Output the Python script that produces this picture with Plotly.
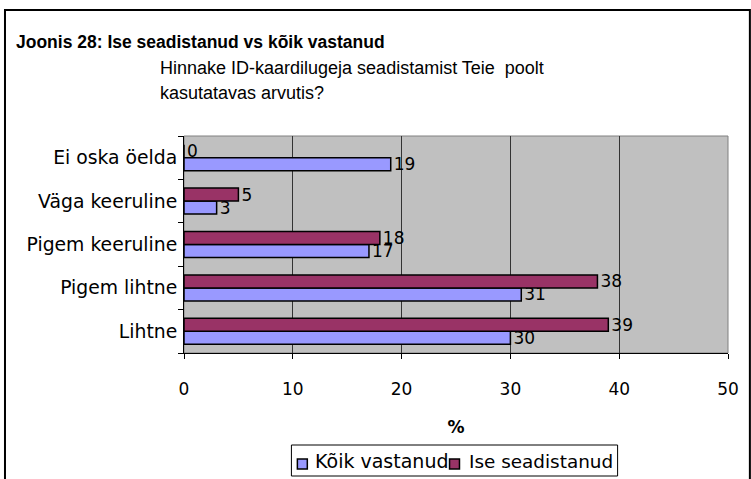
import plotly.graph_objects as go

categories = ["Lihtne", "Pigem lihtne", "Pigem keeruline", "Väga keeruline", "Ei oska öelda"]
koik_vastanud = [30, 31, 17, 3, 19]
ise_seadistanud = [39, 38, 18, 5, 0]
x_ticks = [0, 10, 20, 30, 40, 50]
series_names = ["Kõik vastanud", "Ise seadistanud"]
series_colors = ["#9999FF", "#993366"]

W, H = 751, 479
L, R, T, B = 184, 20, 136, 126
pw, ph = W - L - R, H - T - B

def px(x):
    return (x - L) / pw

def py(y):
    return (H - B - y) / ph

FONT = "DejaVu Sans"

fig = go.Figure()
for name, vals, col in zip(series_names, [koik_vastanud, ise_seadistanud], series_colors):
    fig.add_trace(go.Bar(
        y=categories, x=vals, orientation="h", name=name,
        marker=dict(color=col, line=dict(color="black", width=1.5)),
        text=[str(v) for v in vals], textposition="outside", constraintext="none",
        textfont=dict(family=FONT, size=17, color="black"), cliponaxis=False,
        showlegend=False,
    ))

fig.update_layout(
    width=W, height=H,
    margin=dict(l=L, r=R, t=T, b=B),
    paper_bgcolor="white", plot_bgcolor="#C0C0C0",
    barmode="group", bargap=0.4, bargroupgap=0,
    font=dict(family=FONT, size=17, color="black"),
    showlegend=False,
    xaxis=dict(range=[0, 50], tickvals=x_ticks, showgrid=True, gridcolor="#333333", gridwidth=1,
               ticks="outside", ticklen=5, tickcolor="black", showline=True, linecolor="black",
               zeroline=False, tickfont=dict(family=FONT, size=17), ticklabelstandoff=16,
               title=dict(text="<b>%</b>", font=dict(family=FONT, size=17), standoff=22)),
    yaxis=dict(showgrid=False, ticks="outside", ticklen=5, tickcolor="black", tickson="boundaries",
               showline=True, linecolor="black", tickfont=dict(family=FONT, size=18.8),
               ticklabelstandoff=2),
)

fig.add_shape(type="rect", xref="paper", yref="paper", x0=0, x1=1, y0=0, y1=1,
              line=dict(color="#808080", width=1), layer="below")
fig.add_shape(type="rect", xref="paper", yref="paper", x0=px(4), x1=px(753), y0=py(10), y1=py(485),
              line=dict(color="black", width=2))

# Title block
fig.add_annotation(xref="paper", yref="paper", x=px(13), y=py(42), xanchor="left", yanchor="middle",
                   text="<b>Joonis 28: Ise seadistanud vs kõik vastanud</b>", showarrow=False,
                   font=dict(family="Liberation Sans", size=17.5, color="black"))
fig.add_annotation(xref="paper", yref="paper", x=px(158), y=py(68), xanchor="left", yanchor="middle",
                   text="Hinnake ID-kaardilugeja seadistamist Teie  poolt", showarrow=False,
                   font=dict(family="Liberation Sans", size=18, color="black"))
fig.add_annotation(xref="paper", yref="paper", x=px(158), y=py(93), xanchor="left", yanchor="middle",
                   text="kasutatavas arvutis?", showarrow=False,
                   font=dict(family="Liberation Sans", size=18, color="black"))

# Legend (drawn box, swatches and labels)
fig.add_shape(type="rect", xref="paper", yref="paper", x0=px(292), x1=px(620), y0=py(445), y1=py(476),
              line=dict(color="black", width=1), fillcolor="white")
leg_sw = [298, 451]
leg_txt = [314, 469]
leg_sizes = [19, 18.4]
for name, col, sx, tx, fs in zip(series_names, series_colors, leg_sw, leg_txt, leg_sizes):
    fig.add_shape(type="rect", xref="paper", yref="paper", x0=px(sx), x1=px(sx + 10),
                  y0=py(459), y1=py(469), line=dict(color="black", width=1.5), fillcolor=col)
    fig.add_annotation(xref="paper", yref="paper", x=px(tx), y=py(461), xanchor="left",
                       yanchor="middle", text=name, showarrow=False,
                       font=dict(family=FONT, size=fs, color="black"))

fig.write_html("out.html", post_script="document.body.style.margin='0';",
               config={"displayModeBar": False})
